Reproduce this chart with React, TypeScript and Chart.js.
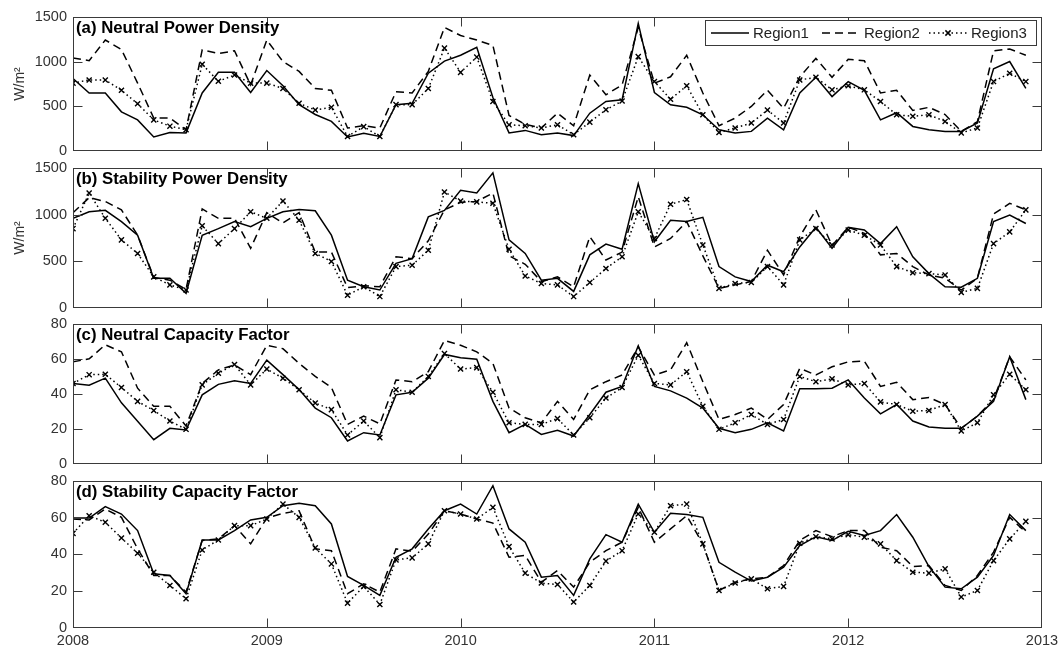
import React, { useEffect, useRef } from "react";
import { Chart, registerables } from "chart.js";

Chart.register(...registerables);

// ---------- data ----------
const START_YEAR = 2008;
const yearTicks = [2008, 2009, 2010, 2011, 2012, 2013];
const regionNames = ["Region1", "Region2", "Region3"];
const powerTicks = [0, 500, 1000, 1500];
const capacityTicks = [0, 20, 40, 60, 80];
const panelTitles = [
  "(a) Neutral Power Density",
  "(b) Stability Power Density",
  "(c) Neutral Capacity Factor",
  "(d) Stability Capacity Factor",
];
const powerUnit = "W/m\u00B2";

// (a) Neutral Power Density, W/m2, monthly Jan 2008 .. Dec 2012
const neutralPD_r1 = [
  810, 650, 650, 440, 350, 160, 210, 205, 650, 880,
  880, 655, 900, 730, 520, 410, 333, 160, 200, 165,
  520, 535, 870, 1005, 1070, 1160, 600, 205, 233, 185,
  205, 175, 425, 555, 575, 1425, 655, 518, 490, 407,
  240, 205, 222, 370, 240, 650, 825, 610, 777, 680,
  350, 430, 277, 240, 222, 222, 315, 920, 1000, 700,
];
const neutralPD_r2 = [
  1040, 1010, 1240, 1135, 760, 370, 370, 240, 1130, 1090,
  1120, 740, 1240, 1000, 890, 700, 680, 260, 285, 260,
  665, 650, 890, 1380, 1290, 1240, 1180, 400, 300, 260,
  425, 285, 850, 630, 740, 1380, 760, 830, 1070, 650,
  285, 370, 500, 680, 480, 830, 1035, 825, 1025, 1010,
  650, 680, 455, 490, 410, 222, 330, 1120, 1140, 1070,
];
const neutralPD_r3 = [
  760, 795, 795, 680, 530, 350, 280, 240, 970, 780,
  850, 760, 760, 700, 535, 460, 490, 165, 275, 165,
  520, 520, 700, 1150, 880, 1050, 555, 295, 285, 260,
  296, 185, 325, 463, 560, 1055, 777, 580, 730, 407,
  210, 260, 315, 460, 315, 795, 825, 685, 730, 685,
  555, 407, 390, 407, 333, 205, 260, 777, 870, 777,
];

// (b) Stability Power Density
const stabilityPD_r1 = [
  960, 1030, 1045, 925, 780, 320, 320, 160, 780, 850,
  925, 870, 960, 1030, 1055, 1040, 780, 300, 230, 195,
  480, 530, 975, 1045, 1260, 1230, 1445, 730, 585, 300,
  320, 180, 570, 685, 630, 1330, 710, 940, 925, 970,
  445, 335, 285, 460, 390, 655, 865, 640, 865, 835,
  690, 870, 550, 370, 230, 225, 320, 925, 995, 905,
];
const stabilityPD_r2 = [
  1020, 1180, 1140, 1050, 780, 330, 300, 200, 1060, 960,
  960, 640, 1020, 910, 1020, 600, 600, 220, 240, 230,
  550, 530, 720, 1050, 1130, 1140, 1230, 560, 470, 285,
  335, 230, 765, 515, 600, 1190, 655, 745, 925, 560,
  213, 250, 285, 620, 355, 765, 1050, 670, 865, 800,
  570, 585, 445, 355, 320, 195, 320, 1005, 1120, 1050,
];
const stabilityPD_r3 = [
  850, 1230, 960, 730, 585, 335, 250, 195, 880, 690,
  850, 1030, 960, 1145, 940, 585, 500, 140, 230, 125,
  445, 460, 620, 1240, 1145, 1135, 1120, 630, 345, 265,
  250, 125, 275, 425, 550, 1030, 745, 1110, 1160, 675,
  213, 265, 275, 445, 250, 730, 850, 675, 835, 780,
  675, 445, 380, 370, 355, 170, 213, 690, 815, 1050,
];

// (c) Neutral Capacity Factor, %
const neutralCF_r1 = [
  46, 45, 49, 35, 24.5, 14, 20.5, 19.5, 39.5, 45.5,
  47.5, 46, 59.3, 51, 42.5, 32, 26.5, 13.3, 18, 16.7,
  39.5, 41, 49, 62.5, 60.6, 59.8, 35.8, 18, 22.7, 17,
  19.3, 16.1, 28.3, 41, 44.3, 67.4, 44.3, 41.8, 37.7, 32,
  20.5, 18, 19.9, 23.6, 19, 43, 43, 43.3, 48, 37.7,
  28.7, 34, 24.6, 21.2, 20.5, 20.5, 27.4, 35.8, 61.2, 36.8,
];
const neutralCF_r2 = [
  58.3, 60, 68, 64, 43.3, 33, 33, 21.8, 46, 53.7,
  56.5, 51, 67.7, 65.8, 57.4, 50, 43.7, 22.7, 27.4, 23,
  48, 47, 52.7, 70.5, 67.7, 64, 57.4, 32, 26.5, 23.6,
  35.8, 25.5, 42.4, 47, 50.8, 66.8, 50.8, 53.7, 69.2, 47,
  25.5, 28.3, 32, 25.5, 34, 54.6, 50.8, 55.5, 58.3, 58.7,
  44.3, 46.7, 36.8, 38, 34, 20.5, 27.4, 36.8, 61.2, 48,
];
const neutralCF_r3 = [
  46, 51, 51.2, 43.7, 35.8, 30.6, 24.6, 19.9, 45.2, 51.8,
  56.8, 45.2, 54.2, 49, 42.4, 34.9, 31.1, 16.7, 24.6, 15.2,
  42.4, 41, 50, 63, 54.2, 55, 41, 23.6, 22.7, 22.7,
  26, 16.7, 26.5, 37.7, 43.7, 62, 46, 45.2, 52.7, 33,
  19.9, 23.6, 28.3, 22.7, 25.5, 50, 47, 48.6, 45.2, 46,
  35.5, 34, 30.2, 30.6, 34, 19, 23.6, 39.6, 51.2, 42.4,
];

// (d) Stability Capacity Factor, %
const stabilityCF_r1 = [
  59.7, 59.7, 65.9, 61.9, 52.9, 29.4, 28.5, 18.6, 47.8, 47.8,
  52.9, 58.7, 60.1, 66.4, 67.7, 66.4, 56.5, 28, 23.1, 17.7,
  38.4, 43, 53.8, 63.7, 67.3, 61.9, 77.3, 53.8, 46.6, 27.6,
  28.5, 17.7, 37.5, 50.7, 46.6, 67.3, 52, 62.3, 61.6, 60.1,
  35.7, 30.3, 25.5, 27.6, 33, 44.8, 49.6, 47.5, 52.5, 50.2,
  52.9, 61.6, 49.3, 33.4, 22.2, 21.3, 27.6, 39.4, 61.6, 52.9,
];
const stabilityCF_r2 = [
  59.2, 58.7, 64.6, 60.1, 43, 28.5, 28.5, 19.5, 47.5, 48.4,
  55.6, 45.7, 59.7, 62.3, 63.7, 43, 42, 18.6, 24, 19.5,
  43, 41.7, 51, 63.7, 61.9, 59.2, 57, 38.4, 39.4, 24.9,
  31.2, 22.2, 35.7, 42, 46.6, 65.5, 46.6, 53.8, 61, 45.7,
  20.4, 24.9, 26.7, 27.6, 33.9, 47.5, 52.9, 49.6, 52.9, 52.9,
  43.9, 42, 33.4, 33.9, 23.1, 20.4, 28.5, 41.2, 60.1, 52,
];
const stabilityCF_r3 = [
  51.4, 61, 57.4, 48.9, 40.6, 30.3, 23.1, 15.9, 42.4, 47.8,
  55.6, 55.6, 59.2, 67.3, 60.1, 43.5, 34.8, 13.5, 22.6, 12.8,
  37, 38.1, 45.7, 63.7, 61.9, 59.2, 65.5, 44.2, 29.8, 24.4,
  23.6, 14.1, 23.1, 36.3, 42, 61.9, 52, 66.4, 67.3, 45.7,
  20.4, 24.4, 26.7, 21.3, 22.6, 46, 49.6, 48.4, 50.7, 49.3,
  45.7, 36.6, 30.3, 29.8, 32.1, 16.8, 20.4, 36.6, 48.4, 57.9,
];

// ---------- layout / style ----------
const FONT = '"Liberation Sans", Arial, Helvetica, sans-serif';
const W = 1063;
const PLOT_LEFT = 73;
const PLOT_RIGHT = 1042;
const PAD_TOP = 14;
const TICK_LEN = 9;
const AXIS_COLOR = "#3a3a3a";
const LABEL_COLOR = "#333";

type PanelCfg = {
  title: string;
  series: number[][];
  ticks: number[];
  yLabel?: string;
  showX: boolean;
  legend: boolean;
  top: number;
  bottom: number;
  padBottom: number;
};

const panels: PanelCfg[] = [
  { title: panelTitles[0], series: [neutralPD_r1, neutralPD_r2, neutralPD_r3], ticks: powerTicks, yLabel: powerUnit, showX: false, legend: true, top: 16, bottom: 152, padBottom: 14 },
  { title: panelTitles[1], series: [stabilityPD_r1, stabilityPD_r2, stabilityPD_r3], ticks: powerTicks, yLabel: powerUnit, showX: false, legend: false, top: 167, bottom: 309, padBottom: 14 },
  { title: panelTitles[2], series: [neutralCF_r1, neutralCF_r2, neutralCF_r3], ticks: capacityTicks, showX: false, legend: false, top: 323, bottom: 465, padBottom: 14 },
  { title: panelTitles[3], series: [stabilityCF_r1, stabilityCF_r2, stabilityCF_r3], ticks: capacityTicks, showX: true, legend: false, top: 480, bottom: 628, padBottom: 26 },
];

const seriesStyles = [
  { dash: [] as number[], marker: false },
  { dash: [8, 5], marker: false },
  { dash: [1.5, 3], marker: true },
];

function drawX(ctx: CanvasRenderingContext2D, x: number, y: number, r: number) {
  ctx.beginPath();
  ctx.moveTo(x - r, y - r);
  ctx.lineTo(x + r, y + r);
  ctx.moveTo(x - r, y + r);
  ctx.lineTo(x + r, y - r);
  ctx.stroke();
}

function makeFramePlugin(cfg: PanelCfg) {
  return {
    id: "frame",
    afterDraw(chart: any) {
      const { ctx, chartArea: a } = chart;
      const xs = chart.scales.x;
      const ys = chart.scales.y;
      const L = Math.round(a.left) + 0.5;
      const R = Math.round(a.right) - 0.5;
      const T = Math.round(a.top) + 0.5;
      const B = Math.round(a.bottom) - 0.5;
      ctx.save();
      ctx.setLineDash([]);
      ctx.strokeStyle = AXIS_COLOR;
      ctx.lineWidth = 1;
      ctx.strokeRect(L, T, R - L, B - T);
      ctx.beginPath();
      ys.ticks.forEach((t: any) => {
        const py = Math.round(ys.getPixelForValue(t.value)) + 0.5;
        if (py <= T + 1 || py >= B - 1) return;
        ctx.moveTo(L, py);
        ctx.lineTo(L + TICK_LEN, py);
        ctx.moveTo(R, py);
        ctx.lineTo(R - TICK_LEN, py);
      });
      xs.ticks.forEach((t: any) => {
        const px = Math.round(xs.getPixelForValue(t.value)) + 0.5;
        if (px <= L + 1 || px >= R - 1) return;
        ctx.moveTo(px, B);
        ctx.lineTo(px, B - TICK_LEN);
        ctx.moveTo(px, T);
        ctx.lineTo(px, T + TICK_LEN);
      });
      ctx.stroke();

      // panel title
      ctx.fillStyle = "#000";
      ctx.font = `bold 16.8px ${FONT}`;
      ctx.textBaseline = "middle";
      ctx.textAlign = "left";
      ctx.fillText(cfg.title, a.left + 3, a.top + 11.5);

      // legend
      if (cfg.legend) {
        const bx = Math.round(a.right) - 337;
        const by = Math.round(a.top) + 3;
        const bw = 331;
        const bh = 25;
        ctx.fillStyle = "#fff";
        ctx.fillRect(bx, by, bw, bh);
        ctx.strokeStyle = AXIS_COLOR;
        ctx.lineWidth = 1;
        ctx.strokeRect(bx + 0.5, by + 0.5, bw, bh);
        const cy = by + bh / 2 + 0.5;
        const starts = [bx + 6, bx + 117, bx + 224];
        starts.forEach((sx, k) => {
          const st = seriesStyles[k];
          ctx.strokeStyle = "#000";
          ctx.lineWidth = 1.5;
          ctx.setLineDash(st.dash);
          ctx.beginPath();
          ctx.moveTo(sx, cy);
          ctx.lineTo(sx + 38, cy);
          ctx.stroke();
          ctx.setLineDash([]);
          if (st.marker) drawX(ctx, sx + 19, cy, 2.6);
          ctx.fillStyle = "#222";
          ctx.font = `15px ${FONT}`;
          ctx.textBaseline = "middle";
          ctx.textAlign = "left";
          ctx.fillText(regionNames[k], sx + 42, cy + 0.5);
        });
      }
      ctx.restore();
    },
  };
}

function Panel({ cfg }: { cfg: PanelCfg }) {
  const ref = useRef<HTMLCanvasElement>(null);
  const height = cfg.bottom - cfg.top + PAD_TOP + cfg.padBottom;
  const yMax = cfg.ticks[cfg.ticks.length - 1];

  useEffect(() => {
    const canvas = ref.current;
    if (!canvas) return;
    const chart = new Chart(canvas, {
      type: "line",
      data: {
        datasets: cfg.series.map((vals, k) => ({
          label: regionNames[k],
          data: vals.map((v, i) => ({ x: START_YEAR + i / 12, y: v })),
          borderColor: "#000",
          backgroundColor: "#000",
          borderWidth: 1.5,
          borderDash: seriesStyles[k].dash,
          pointRadius: seriesStyles[k].marker ? 3.6 : 0,
          pointStyle: "crossRot",
          pointBorderWidth: 1.4,
          pointBorderColor: "#000",
          tension: 0,
          fill: false,
        })),
      },
      options: {
        responsive: false,
        animation: false,
        devicePixelRatio: 1,
        layout: { padding: { left: 0, right: W - PLOT_RIGHT, top: PAD_TOP, bottom: 0 } },
        plugins: { legend: { display: false }, tooltip: { enabled: false } },
        events: [],
        scales: {
          x: {
            type: "linear",
            min: yearTicks[0],
            max: yearTicks[yearTicks.length - 1],
            grid: { display: false, drawTicks: false },
            border: { display: false },
            ticks: {
              display: cfg.showX,
              stepSize: 1,
              autoSkip: false,
              maxRotation: 0,
              padding: 4,
              color: LABEL_COLOR,
              font: { family: FONT, size: 14.5 },
              callback: (v: any) => String(v),
            },
            afterBuildTicks: (s: any) => {
              s.ticks = yearTicks.map((v) => ({ value: v }));
            },
            afterFit: (s: any) => {
              s.height = cfg.padBottom;
            },
          },
          y: {
            type: "linear",
            min: 0,
            max: yMax,
            grid: { display: false, drawTicks: false },
            border: { display: false },
            ticks: {
              padding: 6,
              color: LABEL_COLOR,
              font: { family: FONT, size: 14.5 },
              callback: (v: any) => String(v),
            },
            afterBuildTicks: (s: any) => {
              s.ticks = cfg.ticks.map((v) => ({ value: v }));
            },
            title: {
              display: !!cfg.yLabel,
              text: cfg.yLabel || "",
              color: LABEL_COLOR,
              font: { family: FONT, size: 14 },
              padding: { top: 12, bottom: 0 },
            },
            afterFit: (s: any) => {
              s.width = PLOT_LEFT;
            },
          },
        },
      } as any,
      plugins: [makeFramePlugin(cfg)],
    });
    return () => chart.destroy();
  }, []);

  return (
    <canvas
      ref={ref}
      width={W}
      height={height}
      style={{ position: "absolute", left: 0, top: cfg.top - PAD_TOP, width: W, height }}
    />
  );
}

export default function App() {
  return (
    <div style={{ position: "absolute", left: 0, top: 0, width: W, height: 647, background: "#fff", overflow: "hidden" }}>
      {panels.map((p) => (
        <Panel key={p.title} cfg={p} />
      ))}
    </div>
  );
}
